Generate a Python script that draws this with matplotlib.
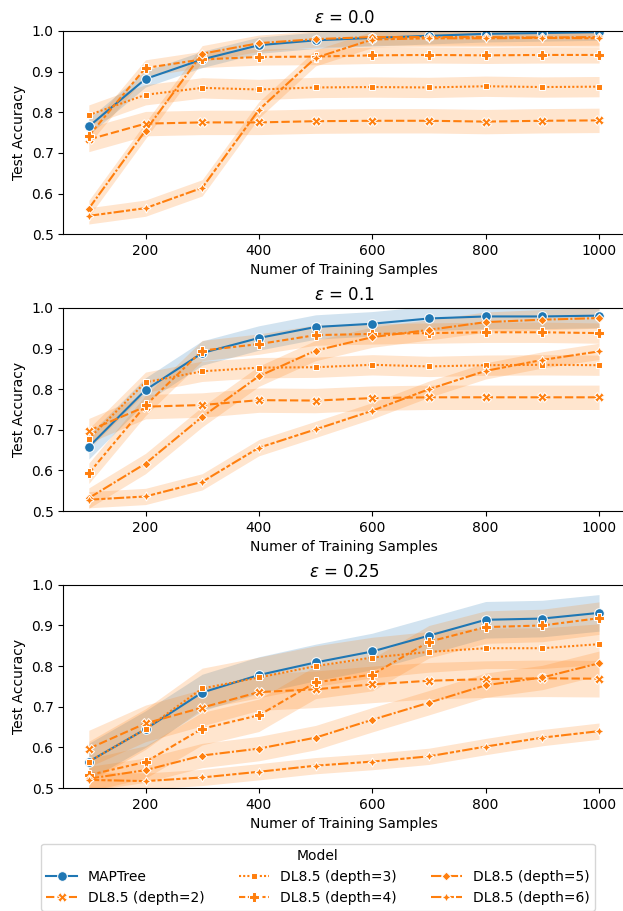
import numpy as np
import matplotlib.pyplot as plt

samples = [100, 200, 300, 400, 500, 600, 700, 800, 900, 1000]
models = ["MAPTree", "DL8.5 (depth=2)", "DL8.5 (depth=3)",
          "DL8.5 (depth=4)", "DL8.5 (depth=5)", "DL8.5 (depth=6)"]
eps_titles = ["$\\epsilon$ = 0.0", "$\\epsilon$ = 0.1", "$\\epsilon$ = 0.25"]

# mean test accuracy, one list per model, per epsilon
acc_00 = [
    [0.765, 0.882, 0.930, 0.965, 0.977, 0.983, 0.988, 0.993, 0.995, 0.997],
    [0.733, 0.772, 0.775, 0.775, 0.778, 0.779, 0.779, 0.777, 0.779, 0.780],
    [0.793, 0.843, 0.860, 0.856, 0.861, 0.862, 0.861, 0.864, 0.862, 0.863],
    [0.742, 0.909, 0.930, 0.936, 0.937, 0.940, 0.941, 0.940, 0.941, 0.941],
    [0.563, 0.755, 0.944, 0.970, 0.980, 0.985, 0.985, 0.985, 0.984, 0.985],
    [0.545, 0.564, 0.614, 0.806, 0.934, 0.979, 0.982, 0.982, 0.983, 0.982],
]
acc_01 = [
    [0.658, 0.798, 0.889, 0.926, 0.953, 0.961, 0.974, 0.979, 0.979, 0.981],
    [0.698, 0.757, 0.761, 0.773, 0.772, 0.778, 0.780, 0.780, 0.780, 0.780],
    [0.678, 0.817, 0.844, 0.853, 0.854, 0.860, 0.856, 0.859, 0.860, 0.859],
    [0.593, 0.760, 0.895, 0.911, 0.933, 0.936, 0.938, 0.940, 0.940, 0.938],
    [0.532, 0.617, 0.732, 0.832, 0.895, 0.928, 0.946, 0.965, 0.971, 0.975],
    [0.528, 0.536, 0.572, 0.656, 0.701, 0.747, 0.800, 0.845, 0.872, 0.893],
]
acc_025 = [
    [0.565, 0.645, 0.735, 0.778, 0.809, 0.836, 0.875, 0.914, 0.917, 0.931],
    [0.597, 0.659, 0.698, 0.736, 0.743, 0.755, 0.764, 0.768, 0.770, 0.769],
    [0.565, 0.645, 0.745, 0.772, 0.800, 0.821, 0.835, 0.844, 0.844, 0.854],
    [0.532, 0.564, 0.646, 0.679, 0.760, 0.779, 0.860, 0.896, 0.900, 0.918],
    [0.523, 0.544, 0.580, 0.597, 0.624, 0.668, 0.710, 0.753, 0.772, 0.807],
    [0.520, 0.517, 0.526, 0.540, 0.555, 0.565, 0.578, 0.602, 0.624, 0.640],
]
# half width of the confidence band per model
ci_00 = [0.02, 0.03, 0.025, 0.02, 0.02, 0.02]
ci_01 = [0.03, 0.03, 0.025, 0.025, 0.025, 0.02]
ci_025 = [0.045, 0.045, 0.05, 0.04, 0.03, 0.02]

blue = "#1f77b4"
orange = "#ff7f0e"
colors = [blue, orange, orange, orange, orange, orange]
markers = ["o", "X", (4, 0, 45), "P", (4, 0, 0), (4, 1, 0)]
dashes = [(None, None), (4, 1.5), (1, 1), (3, 1.25, 1.5, 1.25),
          (5, 1, 1, 1), (5, 1, 2, 1, 2, 1)]

fig, axes = plt.subplots(3, 1, figsize=(6.23, 9.11), dpi=100)
fig.subplots_adjust(left=0.1016, right=1.0025, top=0.966, bottom=0.135, hspace=0.363)

handles = []
for ax, title, acc, ci in zip(axes, eps_titles, [acc_00, acc_01, acc_025], [ci_00, ci_01, ci_025]):
    for i, m in enumerate(models):
        y = np.array(acc[i])
        ax.fill_between(samples, y - ci[i], y + ci[i], color=colors[i], alpha=0.2, lw=0)
    for i, m in enumerate(models):
        line, = ax.plot(samples, acc[i], color=colors[i], marker=markers[i],
                        markersize=7 if i == 0 else 6.5, markeredgecolor="white",
                        markeredgewidth=0.75, lw=1.5, label=m)
        if i > 0:
            line.set_dashes(dashes[i])
        if ax is axes[0]:
            handles.append(line)
    ax.set_title(title)
    ax.set_ylim(0.5, 1.0)
    ax.set_xlim(55, 1045)
    ax.set_xticks([200, 400, 600, 800, 1000])
    ax.set_xlabel("Numer of Training Samples")
    ax.set_ylabel("Test Accuracy")

fig.legend(handles, models, title="Model", ncol=3, handlelength=2.2, columnspacing=2.45,
           loc="upper center", bbox_to_anchor=(0.5104, 0.0815))

fig.savefig("out.png", dpi=100)
